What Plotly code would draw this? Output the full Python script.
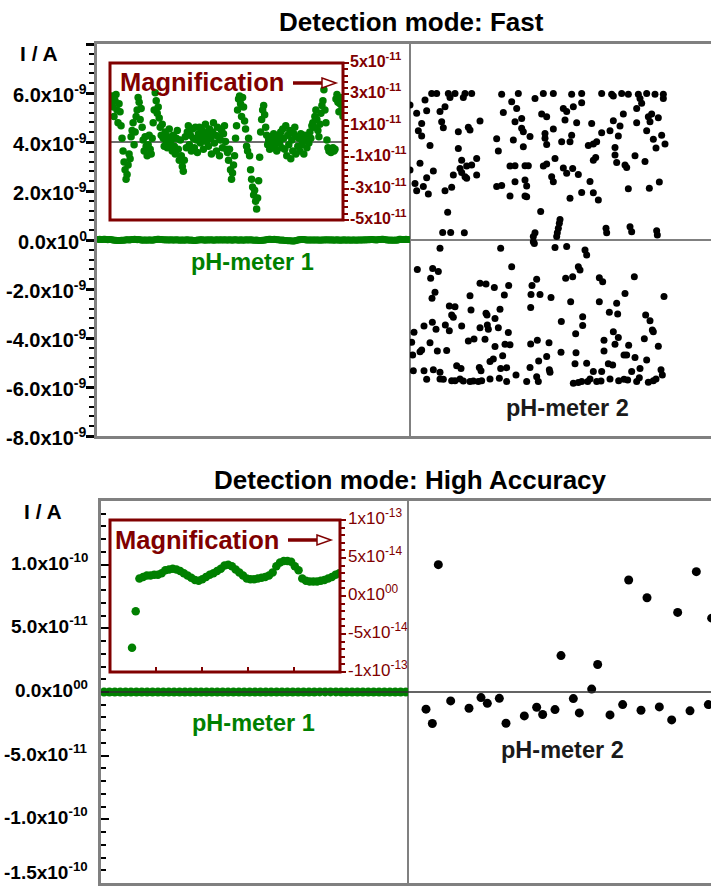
import plotly.graph_objects as go

W, H = 711, 886
FONT = "Liberation Sans, Arial, Helvetica, sans-serif"
GREEN = "#008000"
MAROON = "#800000"
GRAY = "#808080"

# ---------------------------------------------------------------- data
# Detection mode "Fast", pH-meter 1 (values in 1e-11 A, consecutive samples)
ph1_fast = [
    2.5, 2.9, 2.2, 1.6, 2.6, 3.0, 2.0, 1.2, 2.4, 1.9,
    1.0, 0.2, -0.6, -1.3, -1.8, -2.4, -2.1, -1.5, -0.8, -1.1,
    0.3, 0.7, 1.2, -0.2, 0.6, 1.6, 2.0, 2.8, 2.5, 1.4, 2.1, 0.9,
    0.1, -0.6, 0.3, -0.3, -0.9, -0.2, 0.4, -0.5, -0.8, 0.2,
    1.2, 2.0, 3.1, 2.6, 1.8, 2.2,
    1.5, 0.9, 0.4, 1.1, 0.2, -0.3, 0.6, 0.0, -0.4, 0.3, 0.8, -0.2, 0.1, -0.6,
    0.4, -0.3, -0.8, 0.2, 0.7, -0.5, -1.2, 0.1, -0.9, -1.6, -1.9, -1.2, 0.3, -0.4,
    0.6, 1.0, -0.2, 0.4, -0.6, 0.8, 0.2, -0.4, 0.9, 0.1, -0.7, 0.5, 0.9, -0.1, 0.3, 0.7, -0.5, 0.2, 1.1, 0.0,
    0.5, -0.3, 0.8, 0.2, -0.8, 0.6, 1.2, -0.1, 0.4, -0.6, 0.9, 0.3, -0.9, 0.1, 0.7, -0.4, 0.5, 1.0, 0.0, -0.5,
    -0.7, -1.2, -0.5, -1.8, -2.4, -2.0, -1.5, -0.9,
    0.2, 1.0, 2.0, 2.7, 2.9, 2.4, 1.6, 2.8, 2.2, 1.3,
    0.8, -0.3, -0.6, 0.2, -0.9,
    -1.8, -2.4, -2.9, -3.4, -3.1, -3.8, -4.3, -3.6, -2.5,
    -1.0, 0.6, 1.4, 2.0, 2.3, 1.7, 0.9,
    0.4, -0.2, 0.1, -0.5, 0.3, -0.4, 0.0, 0.5, -0.3, 0.2, -0.6, 0.1, 0.4, -0.1, 0.6, -0.4,
    0.8, 0.2, -0.5, 1.0, -0.9, 0.4, -0.2, 0.7, -1.1, 0.1, -0.6, 0.5, 0.9, -0.8, 0.3, -0.3,
    0.2, -0.6, 0.5, -0.2, 0.0, -0.8, 0.4, 0.1, -0.4, 0.3, -0.1, 0.6, 0.2, 1.0,
    1.2, 0.9, 1.6, 2.0, 1.4, 0.7,
    0.3, 1.1, 1.8, 2.3, 2.6, 3.3, 2.0,
    1.2, 0.1, -0.4, -0.6, -0.5, -0.7, -0.6, -0.4, -0.6, -0.5,
    2.7, 3.0, 2.5, 1.9, 2.4, 2.8, 2.1, 1.6,
]

# Detection mode "Fast", pH-meter 2: (sample number, current in nA), positive readings
ph2_fast_pos = [
    (95, 5.98), (110, 5.98), (145, 5.98), (165, 5.98), (195, 5.98), (215, 5.98), (305, 5.95), (355, 5.98),
    (430, 5.98), (460, 5.98), (515, 5.95), (545, 5.98), (605, 5.98), (635, 5.95), (665, 5.98), (685, 5.95),
    (715, 5.95), (740, 5.98), (765, 5.95), (790, 5.95),
    (75, 5.71), (150, 5.82), (190, 5.82), (335, 5.64), (405, 5.78), (640, 5.88), (720, 5.78), (790, 5.78),
    (30, 5.51), (545, 5.60), (725, 5.58), (135, 5.44), (350, 5.37), (490, 5.37), (520, 5.44), (710, 5.37),
    (50, 5.17), (80, 5.28), (120, 5.24), (310, 5.20), (425, 5.14), (440, 5.03), (500, 5.24), (670, 5.14),
    (755, 5.14), (745, 5.03),
    (125, 4.83), (240, 4.86), (345, 4.83), (365, 4.96), (495, 4.90), (530, 4.79), (575, 4.76), (640, 4.87),
    (710, 4.79), (750, 4.83), (775, 4.99),
    (65, 4.76), (130, 4.58), (205, 4.60), (210, 4.49), (365, 4.56), (460, 4.53), (660, 4.65),
    (55, 4.46), (175, 4.42), (370, 4.42), (435, 4.35), (515, 4.28), (605, 4.38), (630, 4.46), (740, 4.46),
    (785, 4.28),
    (65, 4.24), (290, 4.13), (340, 4.08), (390, 4.22), (435, 4.15), (485, 4.01), (510, 4.01), (655, 4.24),
    (760, 4.11),
    (90, 3.86), (175, 3.73), (295, 3.63), (370, 3.81), (440, 3.90), (565, 3.86), (580, 3.92), (590, 4.01),
    (645, 3.78), (768, 3.75), (795, 3.92),
    (185, 3.26), (230, 3.33), (580, 3.26), (587, 3.37), (645, 3.47), (650, 3.16), (705, 3.44), (735, 3.20),
    (465, 3.33),
    (60, 3.13), (200, 3.02), (215, 3.06), (330, 3.02), (345, 3.03), (375, 3.03), (385, 3.03), (430, 3.02),
    (440, 3.10), (490, 2.94), (675, 3.06), (680, 2.96),
    (30, 2.86), (100, 2.82), (160, 2.65), (180, 2.92), (195, 2.58), (230, 2.65), (500, 2.72), (518, 2.92),
    (535, 2.67), (185, 2.76),
    (80, 2.54), (200, 2.52), (455, 2.58),
    (45, 2.31), (70, 2.18), (155, 2.15), (290, 2.18), (305, 2.22), (345, 2.38), (375, 2.45), (380, 2.20),
    (460, 2.38), (570, 2.39), (685, 2.09), (748, 2.11), (778, 2.37),
    (50, 2.01), (85, 1.88), (135, 2.01), (545, 1.94), (580, 1.93), (330, 1.80), (375, 1.80), (380, 1.77),
    (510, 1.70), (595, 1.63),
    (143, 1.13), (422, 1.16),
    (480, 0.84), (478, 0.68), (475, 0.48), (472, 0.30), (618, 0.48), (620, 0.30), (690, 0.54), (695, 0.34),
    (770, 0.38), (772, 0.20), (405, 0.30), (128, 0.31), (152, 0.31), (193, 0.30), (400, 0.14),
]

# Detection mode "Fast", pH-meter 2: (sample number, current in nA), negative readings
ph2_fast_neg = [
    (400, -0.07), (120, -0.34), (302, -0.34), (465, -0.31), (500, -0.27), (555, -0.41), (560, -0.61),
    (470, 0.14), (403, -0.14),
    (52, -1.20), (98, -1.16), (115, -1.29), (92, -1.56), (335, -1.09), (497, -1.56), (518, -1.50),
    (535, -1.09), (540, -1.22), (598, -1.54), (608, -1.70), (703, -1.50), (410, -1.60), (240, -1.77),
    (258, -1.80),
    (283, -1.94), (326, -1.86), (396, -1.86), (313, -2.24), (393, -2.22), (420, -2.22), (453, -2.35),
    (210, -2.28), (96, -2.38), (105, -2.13), (675, -2.18), (792, -2.31), (512, -2.52), (598, -2.52),
    (148, -2.69), (165, -2.72), (213, -2.86), (300, -2.83), (392, -2.75), (628, -2.95), (653, -3.02),
    (650, -2.58), (155, -3.06), (160, -3.15), (258, -2.99), (261, -3.06), (285, -3.20), (548, -3.13),
    (737, -3.06), (484, -3.33), (750, -3.30),
    (72, -3.51), (97, -3.36), (108, -3.64), (136, -3.47), (148, -3.70), (185, -3.51), (240, -3.58),
    (262, -3.47), (265, -3.64), (295, -3.58), (325, -3.78), (548, -3.49), (640, -3.74), (527, -3.83),
    (760, -3.74), (757, -3.67),
    (42, -3.77), (35, -4.17), (90, -4.19), (205, -4.12), (222, -4.04), (255, -4.05), (285, -4.35),
    (315, -4.26), (330, -4.28), (392, -4.24), (412, -4.09), (447, -4.19), (612, -4.09), (655, -3.98),
    (645, -4.26), (686, -4.30), (733, -4.03), (775, -4.34), (60, -4.56), (65, -4.49), (38, -4.69),
    (112, -4.53), (140, -4.51), (483, -4.58), (528, -4.60), (612, -4.53), (672, -4.69), (680, -4.69),
    (308, -4.72),
    (270, -4.96), (280, -4.86), (440, -4.76), (416, -4.94), (390, -5.20), (448, -5.30), (450, -5.40),
    (525, -5.05), (560, -5.03), (625, -5.05), (638, -5.10), (705, -4.80), (740, -4.90), (170, -5.13),
    (183, -5.24), (238, -5.20), (243, -5.34), (302, -5.24), (320, -5.21), (40, -5.34), (72, -5.34),
    (100, -5.30), (120, -5.40), (580, -5.37), (605, -5.37), (695, -5.37), (720, -5.24), (783, -5.30),
    (787, -5.51),
    (80, -5.68), (120, -5.67), (130, -5.68), (155, -5.74), (165, -5.74), (180, -5.67), (190, -5.75),
    (210, -5.78), (220, -5.75), (235, -5.78), (245, -5.74), (270, -5.67), (298, -5.64), (320, -5.78),
    (348, -5.51), (380, -5.78), (410, -5.58), (415, -5.78), (520, -5.85), (535, -5.82), (545, -5.78),
    (563, -5.78), (570, -5.67), (590, -5.78), (603, -5.75), (630, -5.67), (656, -5.74), (672, -5.68),
    (683, -5.71), (710, -5.78), (718, -5.62), (745, -5.81), (760, -5.74), (768, -5.67),
]

# Detection mode "High Accuracy", pH-meter 1 (values in 1e-14 A, consecutive samples)
ph1_ha = [
    -6.8, -2.0,
    2.3, 2.5, 2.7, 2.7, 2.8, 2.8, 3.0, 3.4, 3.5, 3.6, 3.5, 3.3, 3.0, 2.7, 2.4, 2.1, 2.0, 2.2,
    2.5, 2.8, 3.0, 3.3, 3.6, 4.0, 4.1, 3.9, 3.5, 3.1, 2.7, 2.3, 2.2, 2.2, 2.3, 2.4, 2.5, 2.7,
    3.1, 3.9, 4.4, 4.6, 4.6, 4.5, 3.9, 3.4, 2.3, 2.0, 1.9, 1.9, 1.9, 2.0, 2.1, 2.3, 2.5, 2.8, 3.0,
]

# Detection mode "High Accuracy", pH-meter 2: (sample number, current in 1e-11 A)
ph2_ha = [
    (78, -1.35), (97, -2.47), (115, 10.0), (152, -0.70), (207, -1.28), (243, -0.44), (262, -0.89),
    (298, -0.50), (318, -2.45), (373, -1.88), (410, -1.20), (428, -1.77), (465, -1.38), (483, 2.86),
    (520, -0.52), (538, -1.64), (575, 0.23), (593, 2.16), (630, -1.80), (668, -0.99), (686, 8.80),
    (723, -1.43), (741, 7.40), (778, -1.17), (815, -2.19), (833, 6.25), (870, -1.48), (889, 9.45),
    (925, -0.99), (935, 5.80),
]

# tick values and labels
fast_tickvals = [-8e-9, -6e-9, -4e-9, -2e-9, 0, 2e-9, 4e-9, 6e-9, 8e-9]
fast_ticktext = ["-8.0x10<sup>-9</sup>", "-6.0x10<sup>-9</sup>", "-4.0x10<sup>-9</sup>",
                 "-2.0x10<sup>-9</sup>", "0.0x10<sup>0</sup>", "2.0x10<sup>-9</sup>",
                 "4.0x10<sup>-9</sup>", "6.0x10<sup>-9</sup>", ""]
fast_inset_tickvals = [-5e-11, -3e-11, -1e-11, 1e-11, 3e-11, 5e-11]
fast_inset_ticktext = ["-5x10<sup>-11</sup>", "-3x10<sup>-11</sup>", "-1x10<sup>-11</sup>",
                       "1x10<sup>-11</sup>", "3x10<sup>-11</sup>", "5x10<sup>-11</sup>"]
ha_tickvals = [-1.5e-10, -1e-10, -5e-11, 0, 5e-11, 1e-10, 1.5e-10]
ha_ticktext = ["-1.5x10<sup>-10</sup>", "-1.0x10<sup>-10</sup>", "-5.0x10<sup>-11</sup>",
               "0.0x10<sup>00</sup>", "5.0x10<sup>-11</sup>", "1.0x10<sup>-10</sup>", ""]
ha_inset_tickvals = [-1e-13, -5e-14, 0, 5e-14, 1e-13]
ha_inset_ticktext = ["-1x10<sup>-13</sup>", "-5x10<sup>-14</sup>", "0x10<sup>00</sup>",
                     "5x10<sup>-14</sup>", "1x10<sup>-13</sup>"]


# ---------------------------------------------------------------- helpers
def fx(p):
    return p / W


def fy(p):
    return 1 - p / H


def steps(a, b, d):
    n = int(round((b - a) / d))
    return [a + k * d for k in range(n + 1)]


fig = go.Figure()

# Fast mode traces
n1 = len(ph1_fast)
i1 = list(range(n1))
y1 = [v * 1e-11 for v in ph1_fast]
fig.add_trace(go.Scatter(x=i1, y=y1, xaxis="x", yaxis="y", mode="markers",
                         marker=dict(color=GREEN, size=7)))
fig.add_trace(go.Scatter(x=i1, y=y1, xaxis="x3", yaxis="y3", mode="markers",
                         marker=dict(color=GREEN, size=7.5)))
pts = ph2_fast_pos + ph2_fast_neg
fig.add_trace(go.Scatter(x=[p[0] for p in pts], y=[p[1] * 1e-9 for p in pts],
                         xaxis="x2", yaxis="y", mode="markers",
                         marker=dict(color="black", size=7)))

# High accuracy traces
n2 = len(ph1_ha)
i2 = list(range(n2))
y2 = [v * 1e-14 for v in ph1_ha]
fig.add_trace(go.Scatter(x=i2, y=y2, xaxis="x4", yaxis="y4", mode="markers",
                         marker=dict(color=GREEN, size=9)))
fig.add_trace(go.Scatter(x=i2, y=y2, xaxis="x6", yaxis="y6", mode="markers",
                         marker=dict(color=GREEN, size=8.5)))
fig.add_trace(go.Scatter(x=[p[0] for p in ph2_ha], y=[p[1] * 1e-11 for p in ph2_ha],
                         xaxis="x5", yaxis="y4", mode="markers",
                         marker=dict(color="black", size=9)))

hidden = dict(showgrid=False, zeroline=False, showticklabels=False, ticks="")
border = dict(showline=True, linecolor=GRAY, linewidth=3, mirror=True)

ha_x6_range = [-5.95, 56.2]
x6_ticks = [ha_x6_range[0] + k * (ha_x6_range[1] - ha_x6_range[0]) / 5 for k in range(1, 5)]

fig.update_layout(
    width=W, height=H, autosize=False,
    margin=dict(l=0, r=0, t=0, b=0),
    paper_bgcolor="white", plot_bgcolor="white",
    showlegend=False,
    font=dict(family=FONT, color="black"),
    # ---- fast panel
    xaxis=dict(domain=[fx(97), fx(410)], anchor="y", range=[-1, n1], **hidden, **border),
    xaxis2=dict(domain=[fx(410), 1], anchor="y", range=[30, 933], **hidden, **border),
    yaxis=dict(domain=[fy(436), fy(44)], anchor="x", range=[-8e-9, 8e-9],
               tickmode="array", tickvals=fast_tickvals, showticklabels=False,
               ticks="outside", ticklen=8, tickwidth=3, tickcolor="black",
               minor=dict(tickvals=steps(-8e-9, 8e-9, 0.4e-9), ticks="outside",
                          ticklen=5, tickwidth=1.5, tickcolor="black"),
               showline=True, linecolor=GRAY, linewidth=3,
               showgrid=False, zeroline=False),
    # fast inset
    xaxis3=dict(domain=[fx(110), fx(343)], anchor="y3", range=[-1, n1 - 1], **hidden),
    yaxis3=dict(domain=[fy(220), fy(63)], anchor="x3", side="right", range=[-5e-11, 5e-11],
                tickmode="array", tickvals=fast_inset_tickvals, showticklabels=False,
                ticks="outside", ticklen=5, tickwidth=2, tickcolor=MAROON,
                minor=dict(tickvals=steps(-5e-11, 5e-11, 0.4e-11), ticks="outside",
                           ticklen=3.5, tickwidth=1.5, tickcolor=MAROON),
                showline=False, showgrid=False,
                zeroline=True, zerolinecolor="#6e6e6e", zerolinewidth=1.5),
    # ---- high accuracy panel
    xaxis4=dict(domain=[fx(101), fx(408)], anchor="y4", range=[-0.56, n2 - 0.63], **hidden, **border),
    xaxis5=dict(domain=[fx(408), 1], anchor="y4", range=[24, 933], **hidden, **border),
    yaxis4=dict(domain=[fy(883), fy(501)], anchor="x4", range=[-1.5e-10, 1.5e-10],
                tickmode="array", tickvals=ha_tickvals, showticklabels=False,
                ticks="inside", ticklen=8, tickwidth=2, tickcolor="black",
                minor=dict(tickvals=steps(-1.5e-10, 1.5e-10, 1e-11), ticks="inside",
                           ticklen=5, tickwidth=1.5, tickcolor="black"),
                showline=True, linecolor=GRAY, linewidth=3,
                showgrid=False, zeroline=False),
    # high accuracy inset
    xaxis6=dict(domain=[fx(110), fx(340)], anchor="y6", range=ha_x6_range,
                showgrid=False, zeroline=False, showticklabels=False,
                tickmode="array", tickvals=x6_ticks, ticks="inside", ticklen=5,
                tickwidth=2, tickcolor=MAROON),
    yaxis6=dict(domain=[fy(672), fy(520)], anchor="x6", side="right", range=[-1e-13, 1e-13],
                tickmode="array", tickvals=ha_inset_tickvals, showticklabels=False,
                ticks="outside", ticklen=5, tickwidth=2, tickcolor=MAROON,
                minor=dict(tickvals=steps(-1e-13, 1e-13, 1e-14), ticks="outside",
                           ticklen=3.5, tickwidth=1.5, tickcolor=MAROON),
                showline=False, showgrid=False, zeroline=False),
)

shapes = [
    # fast panel decorations
    dict(type="line", xref="paper", yref="y", x0=fx(97), x1=1, y0=0, y1=0,
         line=dict(color=GRAY, width=2), layer="below"),
    dict(type="line", xref="paper", yref="paper", x0=fx(410), x1=fx(410), y0=fy(436), y1=fy(44),
         line=dict(color=GRAY, width=2), layer="below"),
    dict(type="rect", xref="paper", yref="paper", x0=fx(110), x1=fx(343), y0=fy(220), y1=fy(63),
         fillcolor="#dedede", line=dict(width=0), layer="below"),
    dict(type="rect", xref="paper", yref="paper", x0=fx(110), x1=fx(343), y0=fy(220), y1=fy(63),
         line=dict(color=MAROON, width=3), layer="above"),
    dict(type="line", xref="paper", yref="paper", x0=fx(293), x1=fx(324), y0=fy(83), y1=fy(83),
         line=dict(color=MAROON, width=3.5), layer="above"),
    dict(type="path", xref="paper", yref="paper",
         path="M %f,%f L %f,%f L %f,%f Z" % (fx(322), fy(78), fx(336), fy(83), fx(322), fy(88)),
         fillcolor="white", line=dict(color=MAROON, width=1.5), layer="above"),
    # high accuracy panel decorations
    dict(type="line", xref="paper", yref="paper", x0=fx(408), x1=fx(408), y0=fy(883), y1=fy(501),
         line=dict(color=GRAY, width=2), layer="below"),
    dict(type="rect", xref="paper", yref="paper", x0=fx(110), x1=fx(340), y0=fy(672), y1=fy(520),
         fillcolor="#dedede", line=dict(width=0), layer="below"),
    dict(type="rect", xref="paper", yref="paper", x0=fx(110), x1=fx(340), y0=fy(672), y1=fy(520),
         line=dict(color=MAROON, width=3), layer="above"),
    dict(type="line", xref="paper", yref="paper", x0=fx(288), x1=fx(319), y0=fy(540), y1=fy(540),
         line=dict(color=MAROON, width=3.5), layer="above"),
    dict(type="path", xref="paper", yref="paper",
         path="M %f,%f L %f,%f L %f,%f Z" % (fx(317), fy(535), fx(331), fy(540), fx(317), fy(545)),
         fillcolor="white", line=dict(color=MAROON, width=1.5), layer="above"),
    dict(type="line", xref="paper", yref="y4", x0=fx(101), x1=1, y0=0, y1=0,
         line=dict(color="#303030", width=1.5), layer="above"),
]
fig.update_layout(shapes=shapes)


def ann(text, x, y, size, color="black"):
    return dict(text="<b>%s</b>" % text, x=fx(x), y=fy(y), xref="paper", yref="paper",
                showarrow=False, xanchor="center", yanchor="middle",
                font=dict(family=FONT, size=size, color=color))


def tick_labels(vals, texts, yref, x, xanchor, size, color, yshift, is_bold=True):
    out = []
    for v, t in zip(vals, texts):
        if not t:
            continue
        out.append(dict(text=("<b>%s</b>" % t) if is_bold else t, x=fx(x), y=v,
                        xref="paper", yref=yref, showarrow=False,
                        xanchor=xanchor, yanchor="middle", yshift=yshift,
                        font=dict(family=FONT, size=size, color=color)))
    return out


annotations = [
    ann("Detection mode: Fast", 411, 22, 26),
    ann("Detection mode: High Accuracy", 410, 480, 26),
    ann("I / A", 39, 54, 21),
    ann("I / A", 43, 512, 21),
    ann("Magnification", 202, 82, 25.5, MAROON),
    ann("Magnification", 197, 540, 25.5, MAROON),
    ann("pH-meter 1", 252, 262, 23.5, GREEN),
    ann("pH-meter 2", 567, 408, 23.5, "#1a1a1a"),
    ann("pH-meter 1", 253, 723, 23.5, GREEN),
    ann("pH-meter 2", 562, 750, 23.5, "#1a1a1a"),
]
annotations += tick_labels(fast_tickvals, fast_ticktext, "y", 89, "right", 20, "black", 0)
ha_main = tick_labels(ha_tickvals, ha_ticktext, "y4", 90, "right", 19, "black", 3)
ha_main[0]["yshift"] = 12  # keep the lowest label inside the page
annotations += ha_main
annotations += tick_labels(fast_inset_tickvals, fast_inset_ticktext, "y3", 348, "left", 16, MAROON, 3)
annotations += tick_labels(ha_inset_tickvals, ha_inset_ticktext, "y6", 346, "left", 17, MAROON, 3,
                           is_bold=False)
fig.update_layout(annotations=annotations)

fig.write_html("out.html")
